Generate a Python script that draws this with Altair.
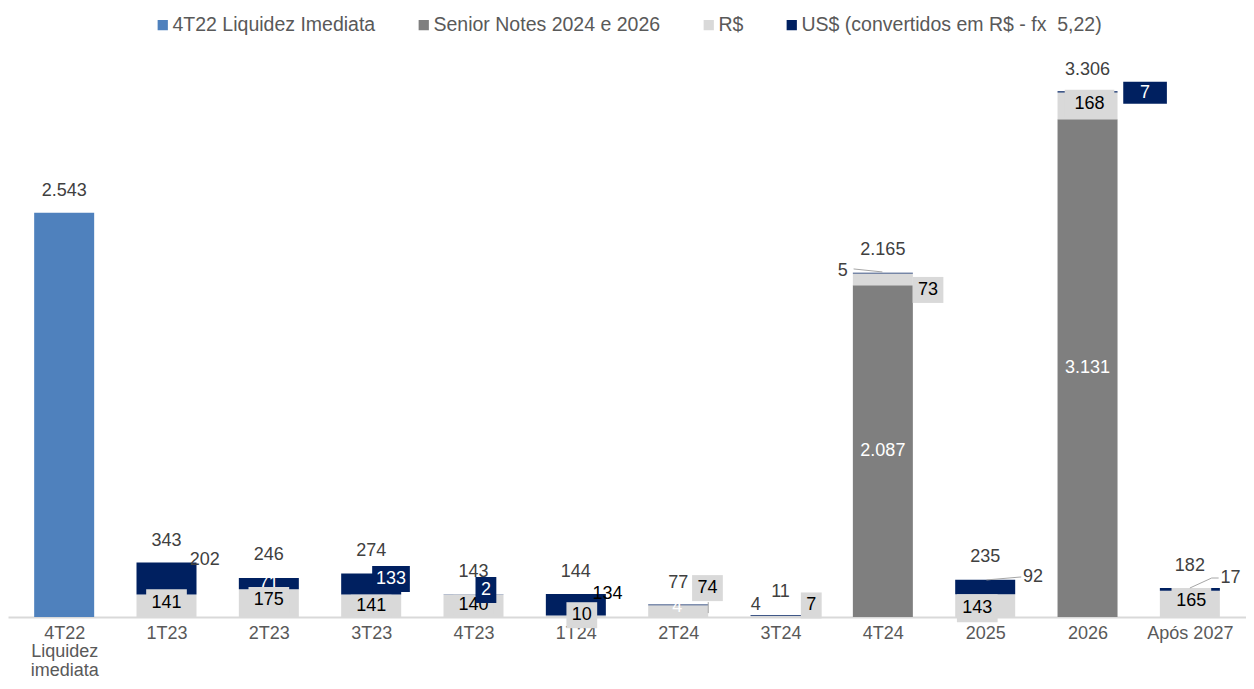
import json
import altair as alt
import pandas as pd

# ---------------- data ----------------
categorias = ["4T22|Liquidez|imediata", "1T23", "2T23", "3T23", "4T23", "1T24",
              "2T24", "3T24", "4T24", "2025", "2026", "Após 2027"]
liquidez = [2543, 0, 0, 0, 0, 0, 0, 0, 0, 0, 0, 0]
senior = [0, 0, 0, 0, 0, 0, 0, 0, 2087, 0, 3131, 0]
reais = [0, 141, 175, 141, 140, 10, 74, 7, 73, 143, 168, 165]
dolares = [0, 202, 71, 133, 2, 134, 4, 4, 5, 92, 7, 17]
totais = [2543, 343, 246, 274, 143, 144, 77, 11, 2165, 235, 3306, 182]

series = ["4T22 Liquidez Imediata", "Senior Notes 2024 e 2026", "R$",
          "US$ (convertidos em R$ - fx\u00a0 5,22)"]
cores = ["#4F81BD", "#7F7F7F", "#D9D9D9", "#002060"]

# ---------------- layout ----------------
W, H = 1238, 571
BAND = 103.17
D = 3591
PXV = H / D
XMAX = -0.5 + W / BAND

# label nudges (px) relative to segment centre: dx, dy, box w, box h
rs_layout = {1: (0, -3, 41, 27), 2: (0, -3, 41, 26), 3: (0, 0, 41, 22), 4: (0, -1, 41, 20),
             5: (6, -1, 31, 26), 6: (29.5, -23, 31, 26), 7: (31, -11, 21, 26),
             8: (45.5, 10.6, 31, 26), 9: (-8, 2.5, 41, 28), 10: (2, -2, 50, 28),
             11: (1.5, -2.5, 40, 27)}
us_layout = {1: (38.5, -18.5, "#404040", None), 2: (0, 0, "#FFFFFF", None),
             3: (20, -5, "#FFFFFF", (38, 26)), 4: (12.5, -4.6, "#FFFFFF", (21, 26)),
             5: (32, -11, "#000000", None), 6: (-1, 2, "#FFFFFF", None),
             7: (-25, -10.6, "#404040", None), 8: (-40.5, -2, "#404040", None),
             9: (48.3, -10, "#404040", None), 10: (58, 1, "#FFFFFF", (44, 22)),
             11: (41, -11.4, "#404040", None)}
total_dy = [-22, -21.5, -22.5, -22.5, -22, -22, -22, -23, -23, -22.5, -21.5, -22]
# leader lines: (index, anchor series, x1, y1, x2, y2) px relative to segment centre
leaders = [(8, "us", -29.5, -4.2, -0.5, -1.2), (9, "us", 1.3, -7, 36.3, -10),
           (11, "us", 0, -1.4, 22, -11.4), (11, "us", 22, -11.4, 29, -11.4),
           (6, "rs", 30.3, -9, 30.3, 2)]


def fmt(v):
    return f"{v:,}".replace(",", ".")


def gx(i, dx):
    return i + dx / BAND


def gy(v, dy):
    return v - dy / PXV


# ---------------- tables ----------------
bar_rows = []
centres = {}
for i in range(len(categorias)):
    base = 0
    for s, vals in zip(series, [liquidez, senior, reais, dolares]):
        v = vals[i]
        if v > 0:
            bar_rows.append({"x": i, "y": base, "y2": base + v, "serie": s})
            centres[(i, s)] = base + v / 2
        base += v
bars_df = pd.DataFrame(bar_rows)

rs_box, rs_txt, us_box, us_txt_plain, us_txt_box, sn_txt, tot_txt, lead = [], [], [], [], [], [], [], []
for i, (dx, dy, bw, bh) in rs_layout.items():
    cx, cy = gx(i, dx), gy(centres[(i, "R$")], dy)
    rs_box.append({"x": cx - bw / 2 / BAND, "x2": cx + bw / 2 / BAND,
                   "y": cy - bh / 2 / PXV, "y2": cy + bh / 2 / PXV, "fill": "#D9D9D9"})
    rs_txt.append({"x": cx, "y": cy, "t": fmt(reais[i]), "c": "#000000"})
for i, (dx, dy, col, box) in us_layout.items():
    cx, cy = gx(i, dx), gy(centres[(i, series[3])], dy)
    row = {"x": cx, "y": cy, "t": fmt(dolares[i]), "c": col}
    if box:
        bw, bh = box
        us_box.append({"x": cx - bw / 2 / BAND, "x2": cx + bw / 2 / BAND,
                       "y": cy - bh / 2 / PXV, "y2": cy + bh / 2 / PXV, "fill": "#002060"})
        us_txt_box.append(row)
    else:
        us_txt_plain.append(row)
for i, v in enumerate(senior):
    if v > 0:
        sn_txt.append({"x": i, "y": centres[(i, series[1])], "t": fmt(v), "c": "#FFFFFF"})
for i, v in enumerate(totais):
    tot_txt.append({"x": i, "y": gy(v, total_dy[i]), "t": fmt(v), "c": "#404040"})
for i, a, x1, y1, x2, y2 in leaders:
    c = centres[(i, series[3] if a == "us" else "R$")]
    lead.append({"x": gx(i, x1), "y": gy(c, y1), "x2": gx(i, x2), "y2": gy(c, y2)})

# ---------------- encodings ----------------
label_expr = "split(" + json.dumps(categorias, ensure_ascii=False) + "[datum.value], '|')"
xenc = alt.X("x:Q",
             scale=alt.Scale(domain=[-0.5, XMAX], nice=False, zero=False),
             axis=alt.Axis(values=list(range(12)), labelExpr=label_expr, title=None,
                           grid=False, ticks=False, tickSize=0, domainColor="#D9D9D9",
                           domainWidth=2, labelFontSize=18, labelColor="#595959",
                           labelPadding=7, labelLineHeight=18.5, labelFont="Liberation Sans",
                           labelFlush=False, labelOverlap=False, labelBound=False))
yenc = alt.Y("y:Q", scale=alt.Scale(domain=[0, D], nice=False, zero=True), axis=None)

bars = alt.Chart(bars_df).mark_bar(width=60).encode(
    x=xenc, y=yenc, y2="y2:Q",
    color=alt.Color("serie:N", scale=alt.Scale(domain=series, range=cores),
                    legend=alt.Legend(title=None, orient="none", legendX=145, legendY=-31,
                                      direction="horizontal", symbolType="square",
                                      symbolSize=105, labelFontSize=19.5, labelColor="#595959",
                                      labelFont="Liberation Sans", columnPadding=38,
                                      labelOffset=0, symbolStrokeWidth=0, labelLimit=0,
                                      padding=0)))


def boxes(rows):
    return alt.Chart(pd.DataFrame(rows)).mark_rect().encode(
        x=xenc, x2="x2:Q", y=yenc, y2="y2:Q", fill=alt.Fill("fill:N", scale=None))


def texts(rows):
    return alt.Chart(pd.DataFrame(rows)).mark_text(
        fontSize=18, font="Liberation Sans", baseline="middle", align="center").encode(
        x=xenc, y=yenc, text="t:N", color=alt.Color("c:N", scale=None))


rules = alt.Chart(pd.DataFrame(lead)).mark_rule(color="#A6A6A6", strokeWidth=1).encode(
    x=xenc, y=yenc, x2="x2:Q", y2="y2:Q")

chart = alt.layer(
    bars, texts(us_txt_plain), boxes(rs_box), texts(rs_txt), boxes(us_box),
    texts(us_txt_box), texts(sn_txt), texts(tot_txt), rules
).properties(
    width=W, height=H,
    padding={"left": 0, "top": 38, "right": 0, "bottom": 64},
    autosize=alt.AutoSizeParams(type="none"),
    background="white",
).configure_view(stroke=None)

chart.save("out.html", embed_options={"renderer": "svg", "actions": False})
